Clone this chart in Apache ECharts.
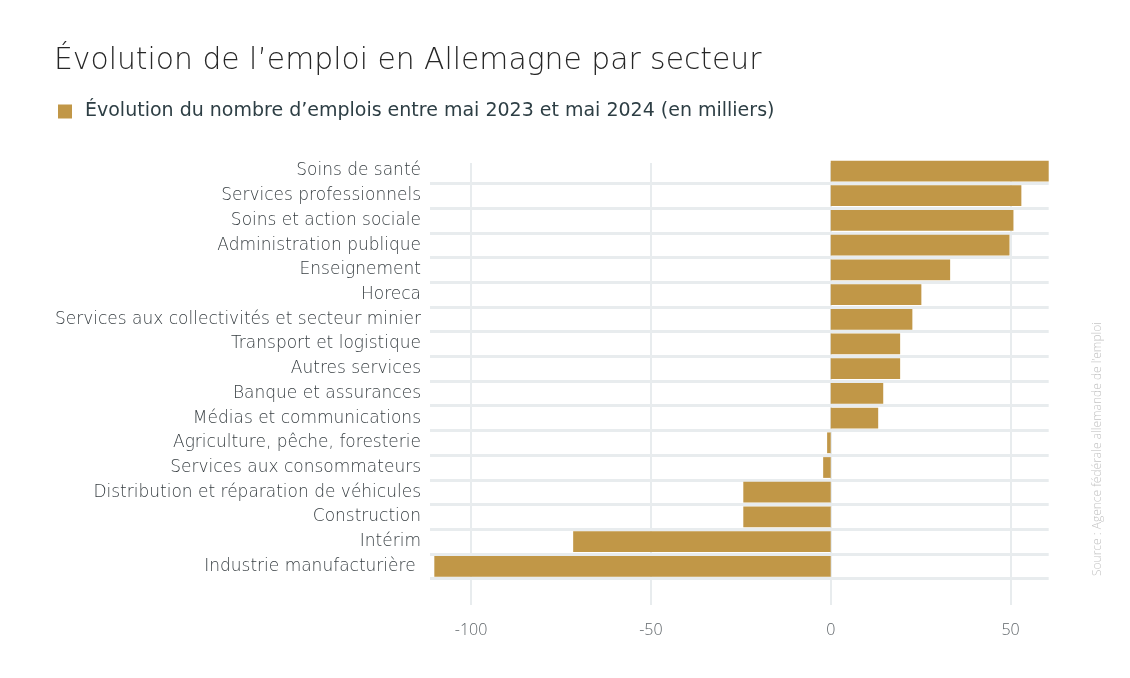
<!DOCTYPE html>
<html>
<head>
<meta charset="utf-8">
<script src="https://cdn.jsdelivr.net/npm/echarts@6/dist/echarts.min.js"></script>
<style>
html,body{margin:0;padding:0;background:#fff;}
#chart{width:1130px;height:678px;}
</style>
</head>
<body>
<div id="chart"></div>
<script>
const categories = [
  "Soins de santé",
  "Services professionnels",
  "Soins et action sociale",
  "Administration publique",
  "Enseignement",
  "Horeca",
  "Services aux collectivités et secteur minier",
  "Transport et logistique",
  "Autres services",
  "Banque et assurances",
  "Médias et communications",
  "Agriculture, pêche, foresterie",
  "Services aux consommateurs",
  "Distribution et réparation de véhicules",
  "Construction",
  "Intérim",
  "Industrie manufacturière "
];
const values = [60.6, 53.0, 50.8, 49.7, 33.2, 25.2, 22.7, 19.3, 19.3, 14.6, 13.2, -1.0, -2.1, -24.3, -24.3, -71.6, -110.2];
const seriesName = "Évolution du nombre d’emplois entre mai 2023 et mai 2024 (en milliers)";
const titleText = "Évolution de l’emploi en Allemagne par secteur";
const sourceText = "Source : Agence fédérale allemande de l’emploi";
const xMin = -111.4, xMax = 60.6;

const FONT = "'Open Sans', Lato, sans-serif";
const WIDE = "'DejaVu Sans', 'Open Sans', sans-serif";
const BAR = "#c19747";
const GRID = "#e8ecee";

const chart = echarts.init(document.getElementById('chart'), null, {renderer: 'canvas'});
chart.setOption({
  backgroundColor: '#ffffff',
  animation: false,
  title: {
    text: titleText,
    left: 54, top: 46, padding: 0,
    textStyle: {fontFamily: WIDE, fontWeight: 200, fontSize: 29.8, color: '#262626'}
  },
  legend: {
    left: 58, top: 102, padding: 0,
    icon: 'rect', itemWidth: 14, itemHeight: 14,
    textStyle: {fontFamily: WIDE, fontSize: 19, color: '#2d3e44', padding: [0, 0, 0, 8]},
    data: [seriesName]
  },
  grid: [
    {left: 430, right: 81.3, top: 163, bottom: 73},
    {left: 430, right: 81.3, top: 158.65, bottom: 99.3}
  ],
  xAxis: [
    {
      type: 'value', gridIndex: 0, min: xMin, max: xMax, splitNumber: 3,
      axisLine: {show: false}, axisTick: {show: false},
      axisLabel: {showMinLabel: false, showMaxLabel: false, margin: 17,
        fontFamily: FONT, fontWeight: 300, fontSize: 16, color: '#5f6569'},
      splitLine: {show: true, showMinLine: false, showMaxLine: false,
        lineStyle: {color: GRID, width: 2}}
    },
    {
      type: 'value', gridIndex: 1, min: xMin, max: xMax, show: false,
      splitLine: {show: false}
    }
  ],
  yAxis: [
    {type: 'value', gridIndex: 0, show: false, splitLine: {show: false}},
    {
      type: 'category', gridIndex: 1, data: categories, inverse: true,
      axisLine: {show: false}, axisTick: {show: false},
      axisLabel: {margin: 9, fontFamily: WIDE, fontWeight: 200, fontSize: 17, color: '#373e42', interval: 0},
      splitLine: {show: true, showMinLine: false, lineStyle: {color: GRID, width: 3}}
    }
  ],
  series: [{
    name: seriesName,
    type: 'bar',
    xAxisIndex: 1, yAxisIndex: 1,
    data: values,
    barCategoryGap: '16%',
    itemStyle: {color: BAR}
  }],
  graphic: [{
    type: 'text',
    x: 1098, y: 449,
    rotation: Math.PI / 2,
    style: {
      text: sourceText,
      fontFamily: FONT, fontWeight: 300, fontSize: 12, fill: '#c4c4c4',
      align: 'center', verticalAlign: 'middle'
    }
  }]
});
</script>
</body>
</html>
